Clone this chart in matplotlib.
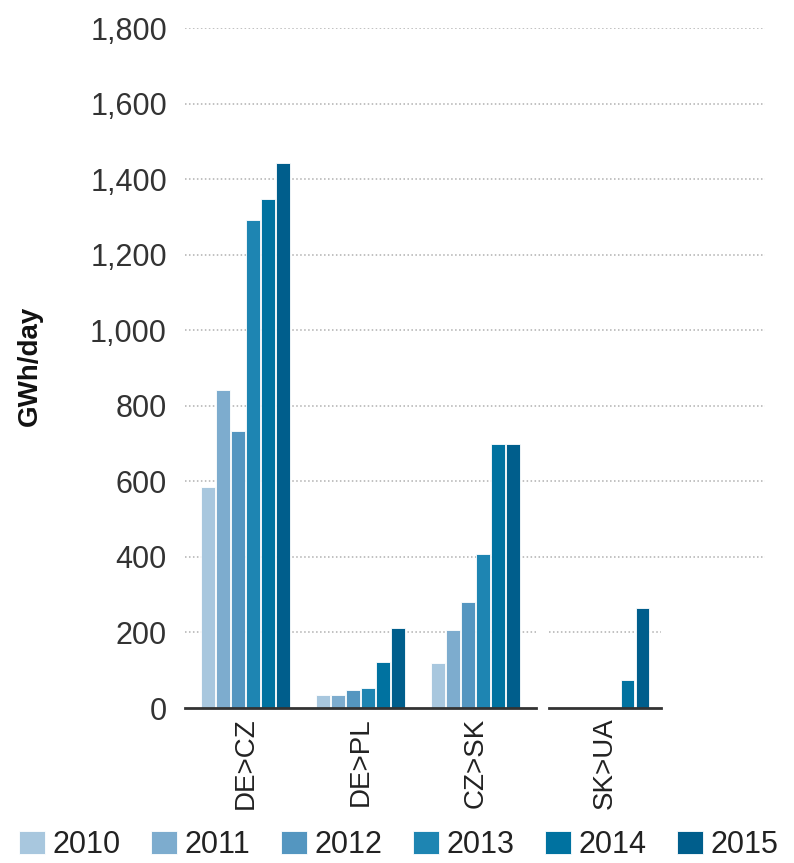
import matplotlib.pyplot as plt
import numpy as np

plt.rcParams['font.family'] = ['Liberation Sans', 'DejaVu Sans']

# Data
corridors = ['DE>CZ', 'DE>PL', 'CZ>SK', 'SK>UA']
years = ['2010', '2011', '2012', '2013', '2014', '2015']
v2010 = [585, 34, 120, 0]
v2011 = [842, 34, 206, 0]
v2012 = [733, 47, 281, 0]
v2013 = [1292, 53, 408, 0]
v2014 = [1347, 121, 699, 74]
v2015 = [1443, 212, 699, 264]
values = [v2010, v2011, v2012, v2013, v2014, v2015]
colors = ['#a8c7de', '#7dacce', '#5496c0', '#1e85b2', '#0072a0', '#005e8c']
yticks = np.arange(0, 1801, 200)

W, H = 794, 863
fig = plt.figure(figsize=(W / 100, H / 100), dpi=100)

y0, y1 = 708, 28
bottom = (H - y0) / H
height = (y0 - y1) / H

# background axis for the long dotted gridlines
bg = fig.add_axes([185 / W, bottom, 580 / W, height])
bg.set_xlim(0, 1)
bg.set_ylim(0, 1800)
bg.axis('off')
for t in yticks[2:]:
    bg.axhline(t, color='#b0b0b0', lw=1.1, ls=(0, (1, 1.6)), zorder=0)

ax1 = fig.add_axes([185 / W, bottom, 351 / W, height])
ax2 = fig.add_axes([549 / W, bottom, 112 / W, height])
ax1.set_xlim(-0.525, 2.525)
ax2.set_xlim(-0.485, 0.485)

step = 0.13
bw = 0.118
offsets = (np.arange(6) - 2.5) * step

for ax, idx in [(ax1, [0, 1, 2]), (ax2, [3])]:
    ax.patch.set_alpha(0)
    ax.set_ylim(0, 1800)
    x = np.arange(len(idx))
    for k in range(6):
        vals = [values[k][i] for i in idx]
        ax.bar(x + offsets[k], vals, width=bw, color=colors[k],
               edgecolor='white', linewidth=0.6, zorder=3,
               label=years[k] if ax is ax1 else None)
    ax.axhline(200, color='#b0b0b0', lw=1.1, ls=(0, (1, 1.6)), zorder=1)
    for s in ['top', 'right', 'left']:
        ax.spines[s].set_visible(False)
    ax.spines['bottom'].set_color('#333333')
    ax.spines['bottom'].set_linewidth(2)
    ax.spines['bottom'].set_zorder(4)
    ax.set_xticks(x)
    ax.set_xticklabels([corridors[i] for i in idx], rotation=90,
                       fontsize=20, color='#222222')
    ax.tick_params(axis='x', length=0, pad=7)

ax1.set_yticks(yticks)
ax1.set_yticklabels([f'{t:,}' for t in yticks], fontsize=22, color='#333333')
ax1.tick_params(axis='y', length=0, pad=13)
ax2.set_yticks([])

fig.text(30 / W, 1 - 366 / H, 'GWh/day', rotation=90, ha='center',
         va='center', fontsize=20, fontweight='bold', color='#111111')

fig.legend(loc='center', bbox_to_anchor=(0.502, 1 - 845 / H), ncol=6,
           frameon=False, fontsize=22, handlelength=0.85, handleheight=0.75,
           handletextpad=0.25, columnspacing=1.0, borderaxespad=0,
           labelcolor='#222222')

fig.savefig('out.png', dpi=100)
